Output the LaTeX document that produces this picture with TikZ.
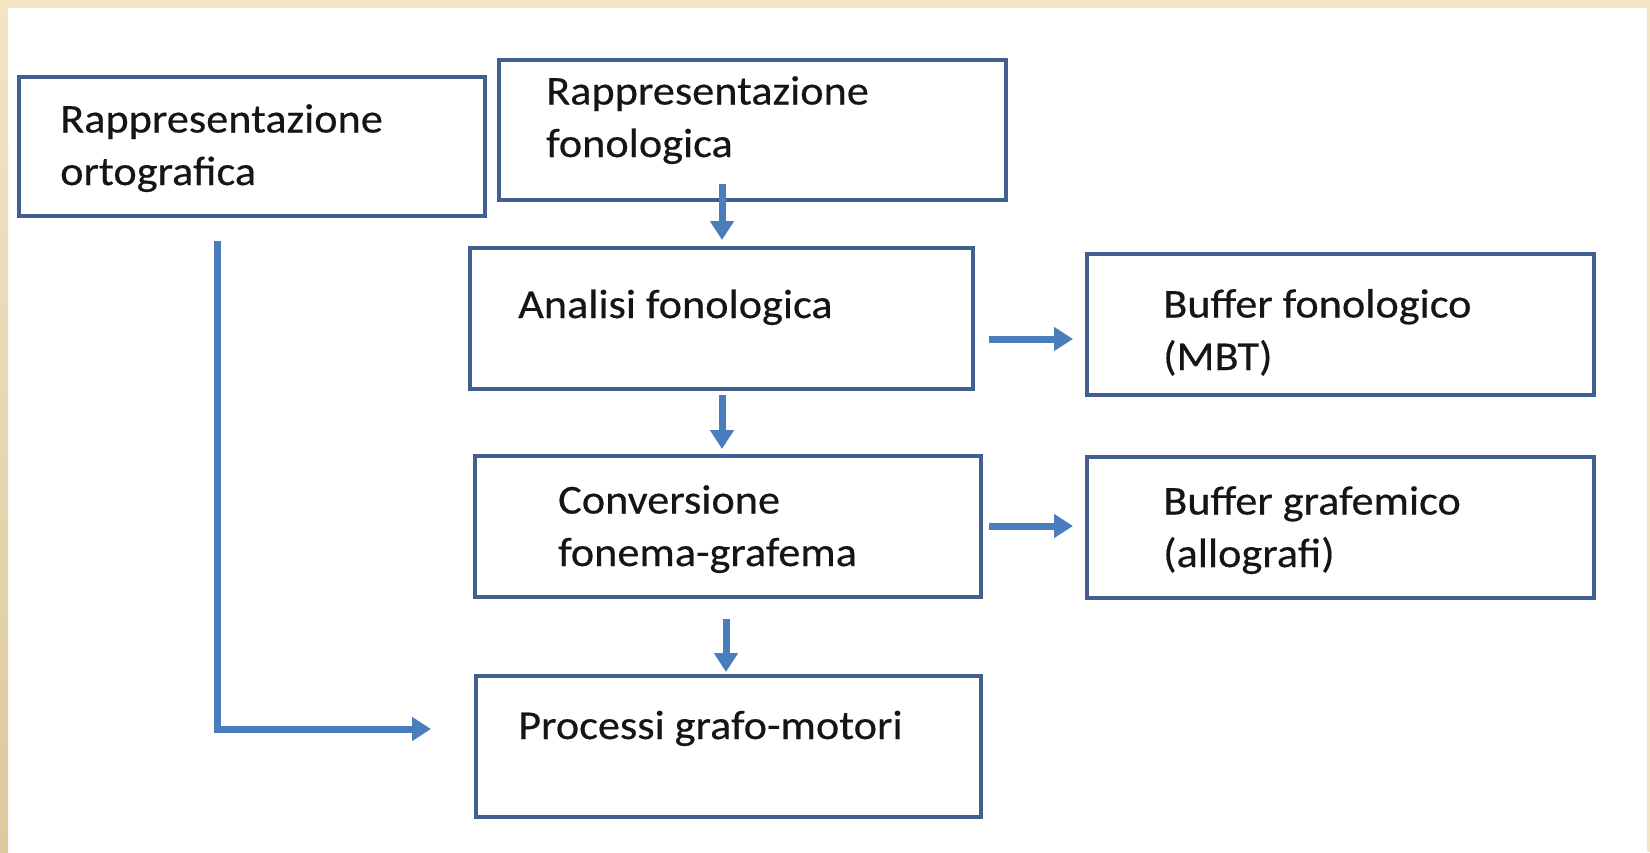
\documentclass[tikz,border=0pt]{standalone}
\usepackage{fontspec}
\setmainfont{Carlito}[FakeStretch=1.08, FakeBold=0.4]
\usetikzlibrary{arrows.meta}
\definecolor{framelight}{HTML}{F3E4C4}
\definecolor{framedark}{HTML}{DCC9A0}
\definecolor{boxline}{HTML}{41608F}
\definecolor{arrowblue}{HTML}{4A7DBB}
\definecolor{inktext}{HTML}{151515}
\tikzset{
  stage/.style={draw=boxline, line width=3.6pt, fill=white},
  label/.style={anchor=base west, inner sep=0pt, text=inktext,
    font=\fontsize{41}{52.5}\selectfont, align=left},
  flow/.style={draw=arrowblue, line width=7pt,
    -{Triangle[length=19pt, width=23pt]}},
}
\begin{document}
\begin{tikzpicture}[x=1pt, y=-1pt]
  % page and its beige frame
  \useasboundingbox (0,0) rectangle (1650,852);
  \fill[white] (0,0) rectangle (1650,852);
  \fill[framelight] (0,0) rectangle (1650,8);
  \shade[top color=framelight, bottom color=framedark] (0,0) rectangle (8,852);
  \fill[framelight] (1647,0) rectangle (1650,852);

  % boxes
  \path[stage] (19,77) rectangle (485,216);
  \path[stage] (499,60) rectangle (1006,200);
  \path[stage] (470,248) rectangle (973,389);
  \path[stage] (1087,254) rectangle (1594,395);
  \path[stage] (475,456) rectangle (981,597);
  \path[stage] (1087,457) rectangle (1594,598);
  \path[stage] (476,676) rectangle (981,817);

  % box texts (base = baseline of the last line)
  \node[label] (orto) at (60,185) {Rappresentazione\\ortografica};
  \node[label] (fono) at (546,157) {Rappresentazione\\fonologica};
  \node[label] (anal) at (518,318) {Analisi fonologica};
  \node[label] (buff) at (1163,370) {Buffer fonologico\\(MBT)};
  \node[label] (conv) at (558,566) {Conversione\\fonema-grafema};
  \node[label] (bufg) at (1163,567) {Buffer grafemico\\(allografi)};
  \node[label] (proc) at (518,739) {Processi grafo-motori};

  % connector end points
  \coordinate (f1) at (722,184);  \coordinate (f2) at (722,240);
  \coordinate (a1) at (722,395);  \coordinate (a2) at (722,449);
  \coordinate (c1) at (726,619);  \coordinate (c2) at (726,672);
  \coordinate (b1) at (989,339);  \coordinate (b2) at (1073,339);
  \coordinate (g1) at (989,526);  \coordinate (g2) at (1073,526);
  \coordinate (o1) at (217,241);  \coordinate (o2) at (431,729);

  % connectors
  \draw[flow] (f1) -- (f2);
  \draw[flow] (a1) -- (a2);
  \draw[flow] (c1) -- (c2);
  \draw[flow] (b1) -- (b2);
  \draw[flow] (g1) -- (g2);
  \draw[flow] (o1) |- (o2);
\end{tikzpicture}
\end{document}
